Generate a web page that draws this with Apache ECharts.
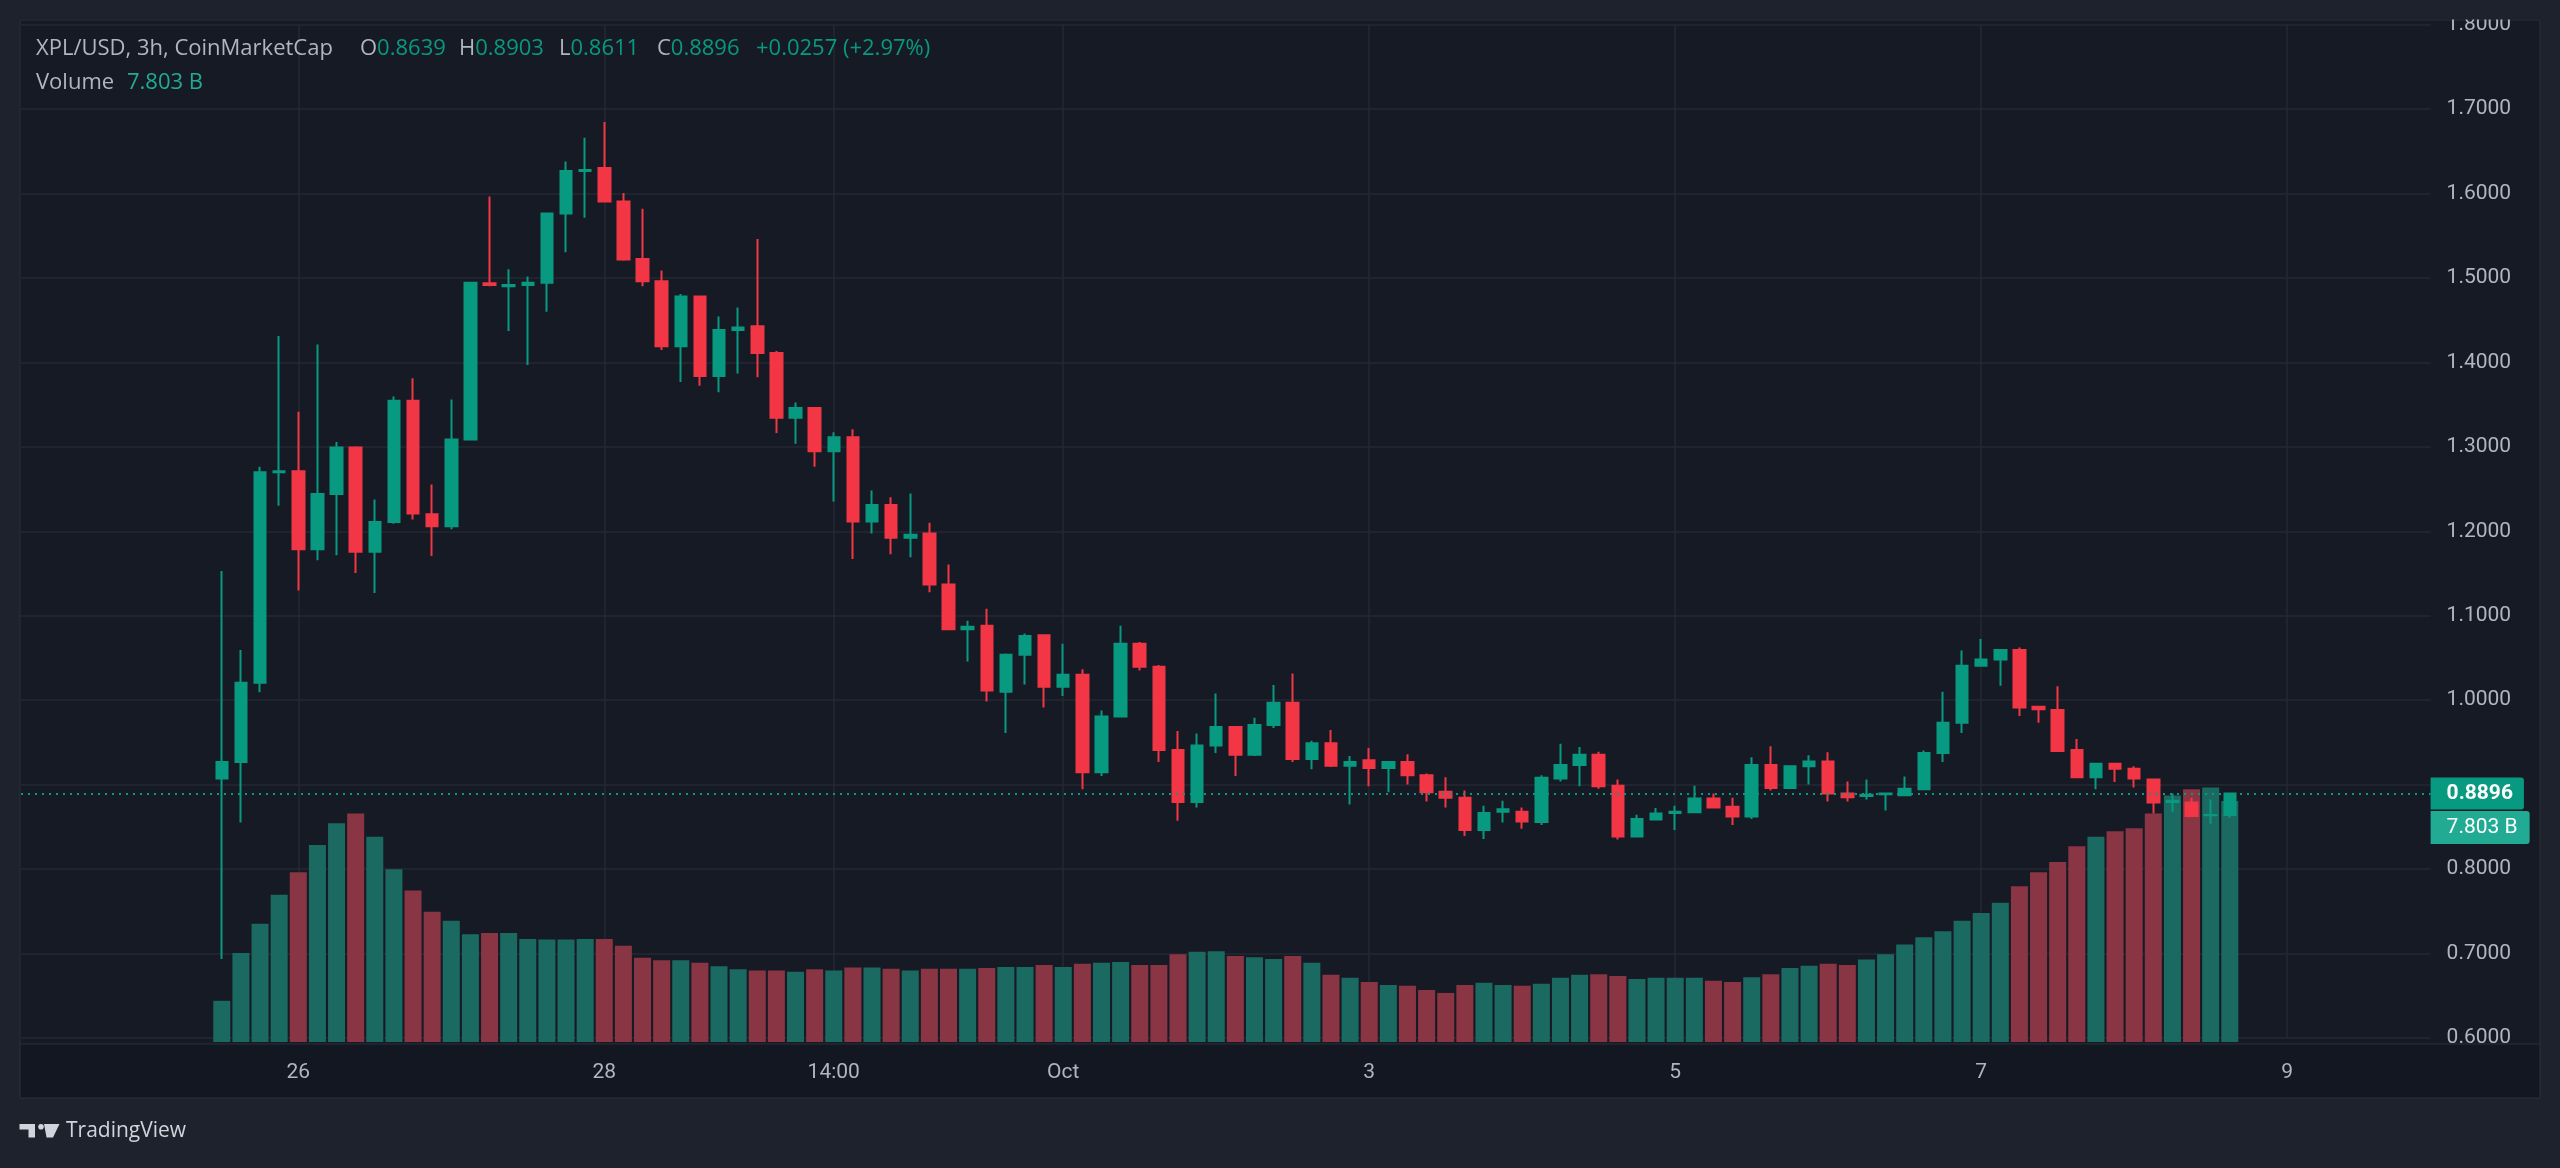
<!DOCTYPE html>
<html>
<head>
<meta charset="utf-8">
<title>XPL/USD 3h</title>
<script src="https://cdn.jsdelivr.net/npm/echarts@6/dist/echarts.min.js"></script>
<style>
    html, body { margin: 0; padding: 0; background: #1e222d; }
    #mainChart { width: 2560px; height: 1168px; }
</style>
</head>
<body>
<div id="mainChart"></div>
<script>
// XPL/USD 3h candles, first one Sep 25 12:00
var opens = [0.9074, 0.9268, 1.0208, 1.2700, 1.2712, 1.1788, 1.2441, 1.2994, 1.1759, 1.2111,
    1.3546, 1.2204, 1.2060, 1.3087, 1.4939, 1.4903, 1.4918, 1.4946, 1.5765, 1.6267,
    1.6303, 1.5908, 1.5226, 1.4961, 1.4192, 1.4781, 1.3841, 1.4386, 1.4429, 1.4113,
    1.3345, 1.3460, 1.2950, 1.3116, 1.2118, 1.2312, 1.1924, 1.1974, 1.1371, 1.0840,
    1.0883, 1.0101, 1.0538, 1.0768, 1.0158, 1.0302, 0.9146, 0.9806, 1.0668, 1.0395,
    0.9411, 0.8794, 0.9462, 0.9684, 0.9354, 0.9706, 0.9971, 0.9304, 0.9490, 0.9225,
    0.9289, 0.9196, 0.9268, 0.9110, 0.8916, 0.8844, 0.8464, 0.8679, 0.8679, 0.8557,
    0.9074, 0.9232, 0.9354, 0.8988, 0.8385, 0.8586, 0.8665, 0.8672, 0.8837, 0.8737,
    0.8622, 0.9232, 0.8959, 0.9218, 0.9275, 0.8894, 0.8866, 0.8887, 0.8873, 0.8945,
    0.9375, 0.9734, 1.0409, 1.0481, 1.0596, 0.9921, 0.9885, 0.9411, 0.9088, 0.9246,
    0.9189, 0.9060, 0.8794, 0.8787, 0.8636, 0.8639];
var highs = [1.1529, 1.0596, 1.2764, 1.4314, 1.3417, 1.4214, 1.3058, 1.3008, 1.2376, 1.3597,
    1.3812, 1.2556, 1.3561, 1.4953, 1.5966, 1.5104, 1.5018, 1.5770, 1.6382, 1.6662,
    1.6849, 1.6009, 1.5822, 1.5090, 1.4810, 1.4795, 1.4544, 1.4652, 1.5463, 1.4135,
    1.3525, 1.3468, 1.3173, 1.3209, 1.2484, 1.2405, 1.2448, 1.2103, 1.1608, 1.0940,
    1.1084, 1.0553, 1.0790, 1.0775, 1.0668, 1.0366, 0.9878, 1.0883, 1.0689, 1.0416,
    0.9634, 0.9605, 1.0079, 0.9690, 0.9792, 1.0180, 1.0316, 0.9519, 0.9648, 0.9340,
    0.9433, 0.9275, 0.9361, 0.9131, 0.9088, 0.8930, 0.8751, 0.8808, 0.8729, 0.9110,
    0.9483, 0.9447, 0.9390, 0.9060, 0.8643, 0.8722, 0.8751, 0.8988, 0.8894, 0.8844,
    0.9325, 0.9455, 0.9225, 0.9347, 0.9383, 0.9038, 0.9060, 0.8900, 0.9095, 0.9404,
    1.0100, 1.0589, 1.0725, 1.0600, 1.0625, 0.9928, 1.0165, 0.9540, 0.9260, 0.9253,
    0.9217, 0.9067, 0.8894, 0.8844, 0.8823, 0.8903];
var lows = [0.6935, 0.8550, 1.0093, 1.2304, 1.1300, 1.1658, 1.1716, 1.1508, 1.1271, 1.2089,
    1.2139, 1.1709, 1.2024, 1.3080, 1.4903, 1.4372, 1.3970, 1.4602, 1.5305, 1.5714,
    1.5900, 1.5205, 1.4903, 1.4149, 1.3769, 1.3726, 1.3647, 1.3869, 1.3826, 1.3166,
    1.3037, 1.2764, 1.2355, 1.1673, 1.1974, 1.1730, 1.1694, 1.1278, 1.0835, 1.0459,
    0.9986, 0.9612, 1.0187, 0.9914, 1.0050, 0.8945, 0.9103, 0.9800, 1.0352, 0.9268,
    0.8571, 0.8729, 0.9375, 0.9103, 0.9340, 0.9670, 0.9268, 0.9182, 0.9210, 0.8765,
    0.8980, 0.8909, 0.9002, 0.8801, 0.8729, 0.8392, 0.8356, 0.8550, 0.8478, 0.8521,
    0.9038, 0.8980, 0.8952, 0.8349, 0.8380, 0.8580, 0.8464, 0.8665, 0.8722, 0.8521,
    0.8593, 0.8930, 0.8952, 0.9002, 0.8801, 0.8801, 0.8823, 0.8693, 0.8866, 0.8940,
    0.9268, 0.9612, 1.0402, 1.0172, 0.9813, 0.9734, 0.9390, 0.9081, 0.8945, 0.9031,
    0.8966, 0.8658, 0.8679, 0.8622, 0.8536, 0.8611];
var closes = [0.9268, 1.0208, 1.2700, 1.2712, 1.1788, 1.2441, 1.2994, 1.1759, 1.2111, 1.3546,
    1.2211, 1.2060, 1.3087, 1.4946, 1.4918, 1.4918, 1.4946, 1.5765, 1.6267, 1.6281,
    1.5908, 1.5219, 1.4961, 1.4192, 1.4781, 1.3841, 1.4386, 1.4415, 1.4113, 1.3345,
    1.3460, 1.2950, 1.3116, 1.2118, 1.2312, 1.1924, 1.1960, 1.1371, 1.0840, 1.0869,
    1.0115, 1.0538, 1.0761, 1.0158, 1.0302, 0.9146, 0.9806, 1.0668, 1.0395, 0.9411,
    0.8794, 0.9462, 0.9684, 0.9354, 0.9706, 0.9971, 0.9304, 0.9490, 0.9225, 0.9268,
    0.9196, 0.9268, 0.9110, 0.8909, 0.8844, 0.8464, 0.8665, 0.8708, 0.8564, 0.9081,
    0.9232, 0.9354, 0.8980, 0.8385, 0.8593, 0.8658, 0.8679, 0.8837, 0.8729, 0.8622,
    0.9232, 0.8959, 0.9218, 0.9275, 0.8894, 0.8851, 0.8880, 0.8894, 0.8952, 0.9375,
    0.9734, 1.0409, 1.0481, 1.0596, 0.9914, 0.9892, 0.9397, 0.9088, 0.9246, 0.9189,
    0.9074, 0.8787, 0.8808, 0.8629, 0.8639, 0.8896];
// volume in billions
var volumes = [1.334, 2.884, 3.826, 4.768, 5.494, 6.377, 7.083, 7.397, 6.651, 5.592,
    4.905, 4.218, 3.924, 3.492, 3.532, 3.532, 3.335, 3.316, 3.316, 3.335,
    3.335, 3.120, 2.727, 2.649, 2.649, 2.570, 2.453, 2.354, 2.315, 2.315,
    2.276, 2.354, 2.315, 2.413, 2.413, 2.374, 2.315, 2.374, 2.374, 2.374,
    2.394, 2.433, 2.433, 2.492, 2.433, 2.531, 2.570, 2.590, 2.492, 2.492,
    2.845, 2.923, 2.943, 2.786, 2.747, 2.688, 2.786, 2.570, 2.178, 2.080,
    1.942, 1.844, 1.825, 1.687, 1.589, 1.844, 1.923, 1.844, 1.825, 1.884,
    2.080, 2.178, 2.197, 2.139, 2.040, 2.080, 2.080, 2.080, 1.982, 1.942,
    2.099, 2.197, 2.394, 2.472, 2.531, 2.492, 2.668, 2.845, 3.159, 3.394,
    3.590, 3.924, 4.179, 4.513, 5.042, 5.494, 5.827, 6.337, 6.651, 6.828,
    6.926, 7.397, 7.985, 8.182, 8.240, 7.803];
// time axis labels, by candle index
var tickIndex = [4, 20, 32, 44, 60, 76, 92, 108];
var tickText = ['26', '28', '14:00', 'Oct', '3', '5', '7', '9'];
var priceMin = 0.6, priceMax = 1.8, priceStep = 0.1;

var upColor = '#089981', downColor = '#f23645';
var upVol = '#1b6a61', downVol = '#8a3543';
var txtColor = '#b2b5be';
var font = 'Roboto';
var hfont = '22px "Open Sans"';

var PAD = 10, TAIL = 10;
var slots = [], candleData = [], volData = [];
var t0 = Date.UTC(2025, 8, 25, 12);
for (var k = -PAD; k < opens.length + TAIL; k++) {
    slots.push(new Date(t0 + k * 3 * 3600 * 1000).toISOString().slice(5, 16));
    var i = k;
    if (i >= 0 && i < opens.length) {
        candleData.push([opens[i], closes[i], lows[i], highs[i]]);
        volData.push({ value: volumes[i], itemStyle: { color: closes[i] >= opens[i] ? upVol : downVol } });
    } else {
        candleData.push('-');
        volData.push('-');
    }
}
function isTick(idx) { return tickIndex.indexOf(idx - PAD) >= 0; }

var n = opens.length - 1;
var chg = closes[n] - closes[n - 1];
var lastVol = volumes[n].toFixed(3) + ' B';
var lastPrice = closes[n].toFixed(4);

function ohlc(letter, v) {
    return { text: '{l|' + letter + '}{v|' + v.toFixed(4) + '}', verticalAlign: 'middle',
        rich: { l: { fill: txtColor, font: hfont }, v: { fill: upColor, font: hfont } } };
}

var myChart = echarts.init(document.getElementById('mainChart'));
myChart.setOption({
    backgroundColor: '#1e222d',
    animation: false,
    textStyle: { fontFamily: font },
    graphic: [
        // chart pane
        { type: 'rect', z: -10, shape: { x: 20, y: 20, width: 2520, height: 1078 },
          style: { fill: '#161a25', stroke: '#2a2e39', lineWidth: 1 } },
        // top cover (clips top price label) and time strip
        { type: 'rect', z: 5, shape: { x: 0, y: 0, width: 2560, height: 19.5 }, style: { fill: '#1e222d' } },
        { type: 'rect', z: 5, shape: { x: 20, y: 1044, width: 2520, height: 54 },
          style: { fill: '#131722', stroke: '#2a2e39', lineWidth: 1 } },
        // legend lines
        { type: 'text', z: 20, x: 36, y: 49, style: { text: 'XPL/USD, 3h, CoinMarketCap', fill: txtColor, font: hfont, verticalAlign: 'middle' } },
        { type: 'text', z: 20, x: 360, y: 49, style: ohlc('O', opens[n]) },
        { type: 'text', z: 20, x: 459, y: 49, style: ohlc('H', highs[n]) },
        { type: 'text', z: 20, x: 559, y: 49, style: ohlc('L', lows[n]) },
        { type: 'text', z: 20, x: 657, y: 49, style: ohlc('C', closes[n]) },
        { type: 'text', z: 20, x: 756, y: 49, style: { text: '+' + chg.toFixed(4) + ' (+' + (chg / closes[n - 1] * 100).toFixed(2) + '%)',
          fill: upColor, font: hfont, verticalAlign: 'middle' } },
        { type: 'text', z: 20, x: 36, y: 83, style: { text: 'Volume', fill: txtColor, font: hfont, verticalAlign: 'middle' } },
        { type: 'text', z: 20, x: 127, y: 83, style: { text: lastVol, fill: '#22ab94', font: hfont, verticalAlign: 'middle' } },
        // last volume tag on the price scale
        { type: 'text', z: 30, x: 2430.6, y: 811, style: { text: lastVol, fill: '#fff', font: '21px ' + font,
          backgroundColor: '#22ab94', padding: [6, 12, 6, 16], borderRadius: [0, 3, 3, 0] } },
        // TradingView logo
        { type: 'group', z: 20, x: 19.5, y: 1124, children: [
            { type: 'rect', shape: { x: 0, y: 0, width: 15.5, height: 5.5 }, style: { fill: '#d1d4dc' } },
            { type: 'rect', shape: { x: 9, y: 0, width: 6.5, height: 13.5 }, style: { fill: '#d1d4dc' } },
            { type: 'circle', shape: { cx: 21.5, cy: 2.8, r: 2.8 }, style: { fill: '#d1d4dc' } },
            { type: 'polygon', shape: { points: [[24.5, 0], [40, 0], [33.5, 13.5], [27, 13.5]] }, style: { fill: '#d1d4dc' } }
        ] },
        { type: 'text', z: 20, x: 66, y: 1131, style: { text: 'TradingView', fill: '#d1d4dc', font: '21px "Open Sans"', verticalAlign: 'middle' } }
    ],
    grid: [
        { left: 21, right: 129.4, top: 24.8, bottom: 130.1 },
        { left: 21, right: 129.4, top: 20, bottom: 126 }
    ],
    xAxis: [{
        type: 'category', gridIndex: 0, data: slots, boundaryGap: true, z: 0,
        axisLine: { show: false }, axisTick: { show: false }, axisLabel: { show: false },
        splitLine: { show: true, alignWithLabel: true, interval: function (idx) { return isTick(idx); },
            lineStyle: { color: '#242833', width: 1.5 } }
    }, {
        type: 'category', gridIndex: 1, data: slots, boundaryGap: true, z: 10,
        axisLine: { show: false }, axisTick: { show: false }, splitLine: { show: false },
        axisLabel: {
            interval: function (idx) { return isTick(idx); },
            formatter: function (v, idx) { return tickText[tickIndex.indexOf(idx - PAD)]; },
            color: txtColor, fontSize: 21, margin: 20, fontFamily: font
        }
    }],
    yAxis: [{
        type: 'value', gridIndex: 0, position: 'right', scale: true,
        min: priceMin, max: priceMax, interval: priceStep,
        axisLine: { show: false }, axisTick: { show: false },
        axisLabel: { color: txtColor, fontSize: 21, margin: 16, fontFamily: font,
            // the last-price tag hides a tick label that sits under it
            formatter: function (v) { return Math.abs(v - closes[n]) < 0.04 ? '' : v.toFixed(4); } },
        splitLine: { lineStyle: { color: '#242833', width: 1.5 } }
    }, {
        type: 'value', gridIndex: 1, min: 0, max: 33.1, show: false, splitLine: { show: false }
    }],
    series: [{
        name: 'Volume', type: 'bar', xAxisIndex: 1, yAxisIndex: 1, z: 1,
        barWidth: 17, data: volData
    }, {
        name: 'XPL/USD', type: 'candlestick', xAxisIndex: 0, yAxisIndex: 0, z: 3,
        barWidth: 12,
        itemStyle: { color: upColor, color0: downColor, borderColor: upColor, borderColor0: downColor, borderWidth: 2 },
        data: candleData,
        markLine: {
            symbol: 'none', silent: true, z: 30, precision: 4,
            lineStyle: { color: upColor, type: [2, 5], width: 2 },
            label: { show: true, position: 'end', distance: 0, color: '#fff', fontSize: 21, fontWeight: 'bold',
                fontFamily: font, backgroundColor: upColor, padding: [6, 11, 5, 16], borderRadius: [0, 3, 3, 0],
                formatter: function () { return lastPrice; } },
            data: [{ yAxis: closes[n] }]
        }
    }]
});
</script>
</body>
</html>
